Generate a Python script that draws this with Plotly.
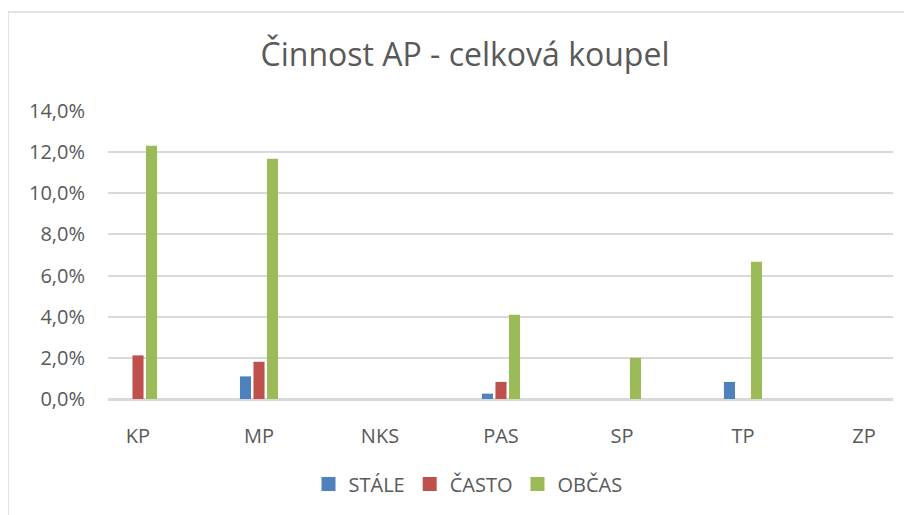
import plotly.graph_objects as go

categories = ["KP", "MP", "NKS", "PAS", "SP", "TP", "ZP"]
stale = [0.0, 0.011, 0.0, 0.0026, 0.0, 0.0083, 0.0]
casto = [0.0212, 0.0181, 0.0, 0.0083, 0.0, 0.0, 0.0]
obcas = [0.1231, 0.1168, 0.0, 0.0410, 0.0200, 0.0667, 0.0]
series_names = ["STÁLE", "ČASTO", "OBČAS"]
colors = ["#4F81BD", "#C0504D", "#9BBB59"]
tick_vals = [0, 0.02, 0.04, 0.06, 0.08, 0.10, 0.12, 0.14]

# page body has an 8px margin, so the figure starts at (8, 8)
OFF = 8
W, H = 904, 507
L, T = 108 - OFF, 111 - OFF
R = W - (893 - OFF)
B = H - (399 - OFF)
pw = W - L - R
ph = H - T - B

def px_x(x):
    return (x - OFF - L) / pw

def px_y(y):
    return (H - B - (y - OFF)) / ph

fig = go.Figure()
for name, vals, col in zip(series_names, [stale, casto, obcas], colors):
    fig.add_trace(go.Bar(x=categories, y=vals, name=name, marker_color=col,
                         marker_line_width=0, showlegend=False))
# legend entries with larger square keys, like the reference
for name, col in zip(series_names, colors):
    fig.add_trace(go.Scatter(x=[None], y=[None], mode="markers", name=name,
                             marker=dict(symbol="square", size=14, color=col)))

font_family = "Open Sans, Noto Sans, sans-serif"
fig.update_layout(
    width=W, height=H,
    margin=dict(l=L, r=R, t=T, b=B, autoexpand=False),
    paper_bgcolor="white", plot_bgcolor="white",
    separators=", ",
    barmode="group", bargap=0.665, bargroupgap=0.18,
    title=dict(text="Činnost AP - celková koupel", x=(465 - OFF) / W,
               xanchor="center", y=1 - (55 - OFF) / H, yanchor="middle",
               yref="container",
               font=dict(family=font_family, size=32, color="#595959")),
    font=dict(family=font_family, color="#595959"),
    legend=dict(orientation="h", x=px_x(468), xanchor="center",
                y=px_y(484), yanchor="middle",
                font=dict(size=20, color="#595959"),
                itemwidth=30, traceorder="normal"),
    showlegend=True,
)
fig.update_xaxes(type="category", range=[-0.248, 6.24], showgrid=False,
                 showline=True, linecolor="#d9d9d9", linewidth=1.5,
                 ticks="", ticklabelstandoff=18,
                 tickfont=dict(size=20, color="#595959"))
fig.update_yaxes(range=[0, 0.14], tickvals=tick_vals, tickformat=".1%",
                 showgrid=True, gridcolor="#d9d9d9", gridwidth=1.5,
                 zeroline=True, zerolinecolor="#d9d9d9", zerolinewidth=1.5,
                 showline=False, ticks="", ticklabelstandoff=22,
                 tickfont=dict(size=20, color="#595959"))

# chart area border (top and left visible in the reference)
fig.add_shape(type="line", xref="paper", yref="paper",
              x0=px_x(8), x1=px_x(930), y0=px_y(12), y1=px_y(12),
              line=dict(color="#d9d9d9", width=1.5))
fig.add_shape(type="line", xref="paper", yref="paper",
              x0=px_x(8), x1=px_x(8), y0=px_y(12), y1=px_y(530),
              line=dict(color="#d9d9d9", width=1.5))

fig.write_html("out.html")
